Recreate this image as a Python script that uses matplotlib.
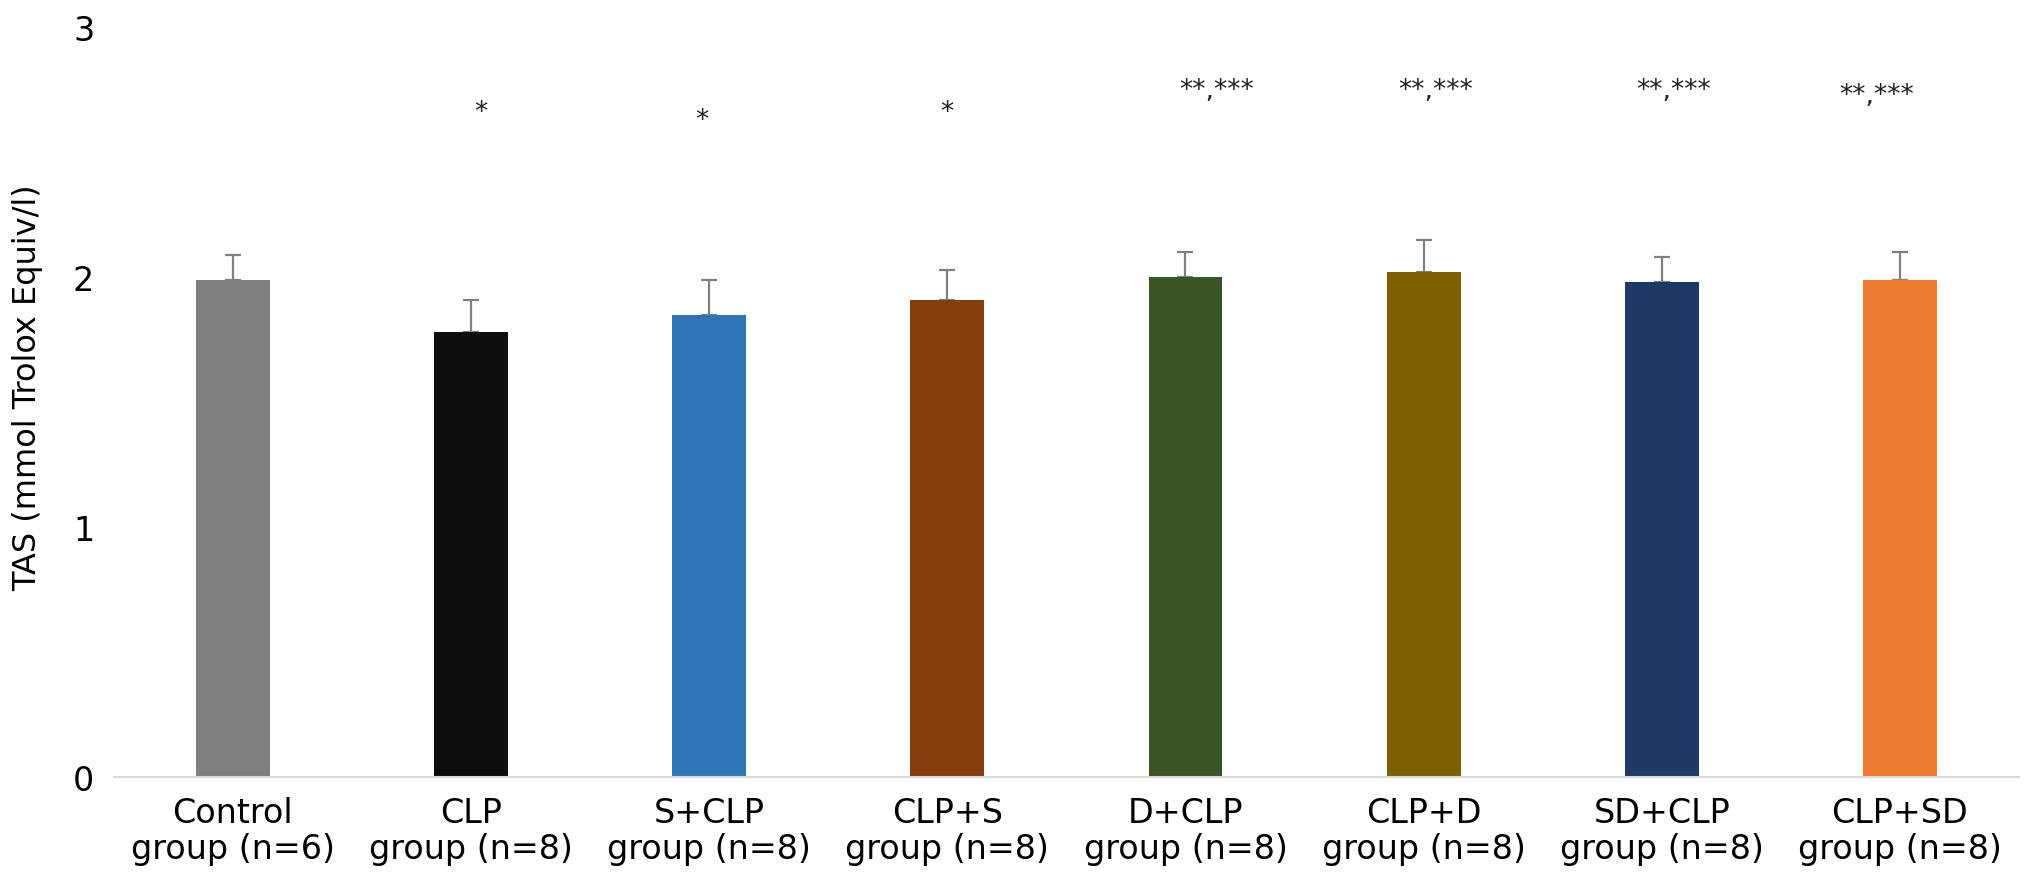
import numpy as np
import matplotlib.pyplot as plt

plt.rcParams['font.family'] = ['DejaVu Sans']

groups = ['Control\ngroup (n=6)', 'CLP\ngroup (n=8)', 'S+CLP\ngroup (n=8)', 'CLP+S\ngroup (n=8)',
          'D+CLP\ngroup (n=8)', 'CLP+D\ngroup (n=8)', 'SD+CLP\ngroup (n=8)', 'CLP+SD\ngroup (n=8)']
tas_mean = [1.99, 1.78, 1.85, 1.91, 2.00, 2.02, 1.98, 1.99]
tas_err = [0.10, 0.13, 0.14, 0.12, 0.10, 0.13, 0.10, 0.11]
marks = ['', '*', '*', '*', '**,***', '**,***', '**,***', '**,***']
mark_y = [0, 2.66, 2.63, 2.66, 2.75, 2.75, 2.75, 2.73]
mark_dx = [0, 0.04, -0.03, 0, 0.13, 0.05, 0.05, -0.10]  # marks sit a bit off-centre in the original
colors = ['#7f7f7f', '#0d0d0d', '#2e75b6', '#843c0c', '#3a5424', '#7f6000', '#1f3864', '#ed7d31']

fig = plt.figure(figsize=(20.32, 8.78), dpi=100)
ax = fig.add_axes([0.056, 0.114, 0.9376, 0.854])

x = np.arange(len(groups))
ax.bar(x, tas_mean, width=0.31, color=colors, zorder=2)
ax.errorbar(x, tas_mean, yerr=[np.zeros(len(x)), tas_err], fmt='none',
            ecolor='#808080', elinewidth=1.6, capsize=6, capthick=1.6, zorder=1)

for xi, m, my, dx in zip(x, marks, mark_y, mark_dx):
    if m:
        ax.text(xi + dx, my, m, ha='center', va='center', fontsize=19, color='#222222')

ax.set_xlim(-0.5, len(groups) - 0.5)
ax.set_ylim(0, 3)
ax.set_yticks([0, 1, 2, 3])
ax.set_xticks(x)
ax.set_xticklabels(groups, fontsize=24, linespacing=1.1)
ax.tick_params(axis='y', labelsize=24, length=0, pad=14)
ax.tick_params(axis='x', length=0, pad=14)
ax.set_ylabel('TAS (mmol Trolox Equiv/l)', fontsize=23)
ax.yaxis.set_label_coords(-0.037, 0.52)

for s in ['top', 'right', 'left']:
    ax.spines[s].set_visible(False)
ax.spines['bottom'].set_color('#d9d9d9')
ax.spines['bottom'].set_linewidth(1.5)

fig.savefig('out.png', dpi=100)
